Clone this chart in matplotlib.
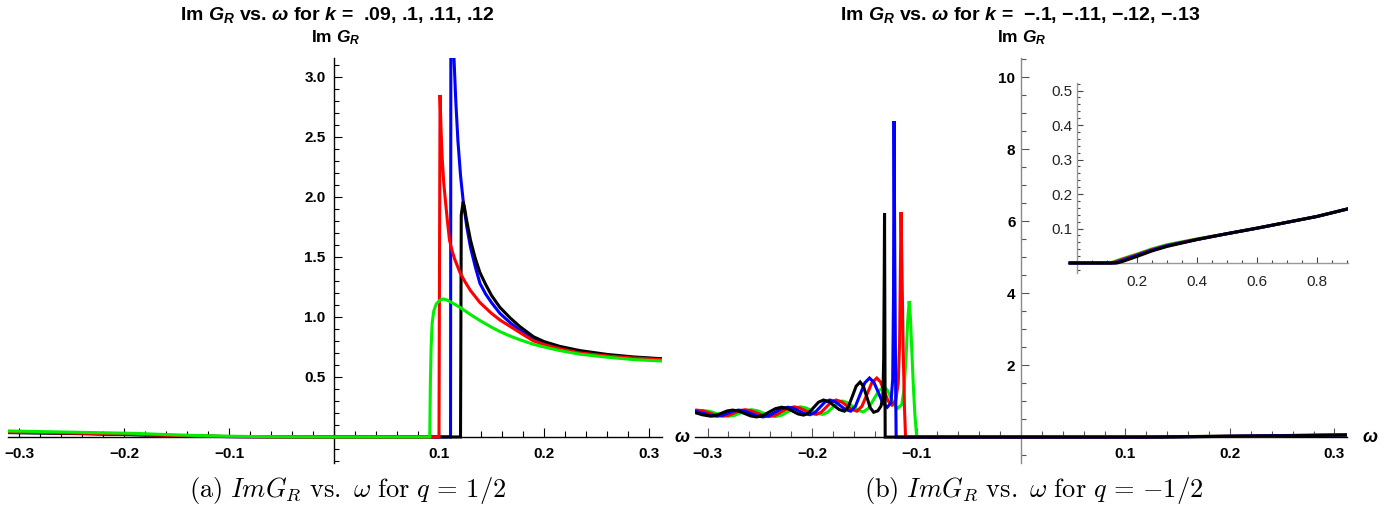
import numpy as np
import matplotlib.pyplot as plt
from matplotlib.ticker import MultipleLocator

# ---------------- data ----------------
# panel (a): q = 1/2, k = .09 (green), .1 (red), .11 (blue), .12 (black)
w_a_green = [-0.31, -0.28, -0.25, -0.22, -0.19, -0.16, -0.13, -0.10, -0.06, 0.0, 0.05,
             0.0912, 0.0918, 0.0925, 0.0935, 0.0950, 0.0975, 0.1010, 0.1040, 0.108, 0.114,
             0.120, 0.125, 0.130, 0.139, 0.150, 0.158, 0.168, 0.177, 0.190, 0.200, 0.215, 0.234,
             0.260, 0.285, 0.312]
im_a_green = [0.05, 0.045, 0.04, 0.035, 0.03, 0.02, 0.012, 0.006, 0.002, 0.0, 0.0,
              0.0, 0.45, 0.75, 0.95, 1.05, 1.11, 1.14, 1.15, 1.14, 1.11,
              1.08, 1.05, 1.02, 0.97, 0.915, 0.878, 0.84, 0.81, 0.772, 0.75, 0.72, 0.69,
              0.665, 0.645, 0.633]

w_a_red = [-0.31, -0.28, -0.25, -0.22, -0.19, -0.16, -0.13, -0.10, -0.06, 0.0, 0.05,
           0.1000, 0.1005, 0.1010, 0.1020, 0.1030, 0.1045, 0.106, 0.108, 0.110, 0.1125,
           0.115, 0.120, 0.125, 0.130, 0.139, 0.150, 0.158, 0.168, 0.177, 0.190, 0.200,
           0.215, 0.234, 0.260, 0.285, 0.312]
im_a_red = [0.04, 0.037, 0.033, 0.028, 0.022, 0.014, 0.008, 0.004, 0.001, 0.0, 0.0,
            0.0, 1.5, 2.85, 2.55, 2.33, 2.12, 1.98, 1.8, 1.64, 1.55,
            1.48, 1.37, 1.29, 1.22, 1.12, 1.03, 0.975, 0.92, 0.87, 0.80, 0.77,
            0.735, 0.70, 0.675, 0.658, 0.645]

w_a_blue = [-0.31, -0.28, -0.25, -0.22, -0.19, -0.16, -0.13, -0.10, -0.06, 0.0, 0.05,
            0.1110, 0.1114, 0.1125, 0.1143, 0.116, 0.118, 0.1205, 0.123, 0.1265, 0.130,
            0.1345, 0.139, 0.1445, 0.150, 0.158, 0.168, 0.177, 0.190, 0.200, 0.215, 0.234,
            0.260, 0.285, 0.312]
im_a_blue = [0.038, 0.035, 0.031, 0.026, 0.02, 0.013, 0.007, 0.003, 0.001, 0.0, 0.0,
             0.0, 4.5, 3.6, 3.15, 2.8, 2.47, 2.18, 1.97, 1.75, 1.58,
             1.42, 1.28, 1.19, 1.12, 1.03, 0.95, 0.89, 0.825, 0.785, 0.745, 0.71,
             0.68, 0.662, 0.648]

w_a_black = [-0.31, -0.28, -0.25, -0.22, -0.19, -0.16, -0.13, -0.10, -0.06, 0.0, 0.05,
             0.1205, 0.1212, 0.1230, 0.1245, 0.126, 0.128, 0.130, 0.1345, 0.139, 0.1445,
             0.150, 0.158, 0.168, 0.177, 0.190, 0.200, 0.215, 0.234, 0.260, 0.285, 0.312]
im_a_black = [0.036, 0.033, 0.029, 0.024, 0.018, 0.012, 0.006, 0.003, 0.001, 0.0, 0.0,
              0.0, 1.85, 1.96, 1.9, 1.82, 1.73, 1.64, 1.49, 1.37, 1.27,
              1.18, 1.08, 0.99, 0.92, 0.835, 0.795, 0.755, 0.72, 0.688, 0.667, 0.652]

# panel (b): q = -1/2, k = -.1 (green), -.11 (red), -.12 (blue), -.13 (black)
w_b_green = [-0.312, -0.305, -0.2985, -0.292, -0.2855, -0.279, -0.2738, -0.2685, -0.2633, -0.258,
             -0.2523, -0.2465, -0.2408, -0.235, -0.229, -0.223, -0.217, -0.211, -0.2058, -0.2005,
             -0.1953, -0.190, -0.1853, -0.1805, -0.1758, -0.171, -0.166, -0.161, -0.156, -0.151,
             -0.146, -0.141, -0.136, -0.131, -0.1278, -0.1245, -0.1213, -0.118, -0.1142, -0.112,
             -0.110, -0.1085, -0.107, -0.1058, -0.1045, -0.103, -0.1015, -0.0998, 0.0, 0.11,
             0.2, 0.312]
im_b_green = [0.72, 0.74, 0.717, 0.66, 0.603, 0.58, 0.606, 0.67, 0.734, 0.76,
              0.732, 0.665, 0.598, 0.57, 0.609, 0.705, 0.80, 0.84, 0.809, 0.735,
              0.661, 0.63, 0.684, 0.815, 0.946, 1.0, 0.956, 0.85, 0.744, 0.70,
              0.80, 1.045, 1.29, 1.39, 1.30, 1.095, 0.886, 0.80, 0.9, 1.3,
              2.2, 3.2, 3.78, 3.3, 2.4, 1.4, 0.6, 0.0, 0.0, 0.0,
              0.027, 0.062]

w_b_red = [-0.312, -0.3105, -0.3041, -0.2978, -0.2914, -0.285, -0.2798, -0.2745, -0.2693, -0.264,
           -0.2583, -0.2525, -0.2468, -0.241, -0.235, -0.229, -0.223, -0.217, -0.2118, -0.2065,
           -0.2013, -0.196, -0.1913, -0.1865, -0.1818, -0.177, -0.172, -0.167, -0.162, -0.157,
           -0.1523, -0.1475, -0.1428, -0.138, -0.1344, -0.1308, -0.1271, -0.1235, -0.120, -0.1175,
           -0.1162, -0.1155, -0.1148, -0.1140, -0.1128, -0.1115, -0.1105, 0.0, 0.115, 0.2,
           0.312]
im_b_red = [0.745, 0.75, 0.725, 0.665, 0.605, 0.58, 0.606, 0.67, 0.734, 0.76,
            0.732, 0.665, 0.598, 0.57, 0.609, 0.705, 0.80, 0.84, 0.809, 0.735,
            0.661, 0.63, 0.688, 0.83, 0.972, 1.03, 0.985, 0.875, 0.765, 0.72,
            0.854, 1.18, 1.506, 1.64, 1.53, 1.265, 1.0, 0.89, 1.0, 1.5,
            2.6, 4.5, 6.25, 4.8, 2.5, 0.8, 0.0, 0.0, 0.0, 0.026,
            0.061]

w_b_blue = [-0.312, -0.304, -0.2975, -0.291, -0.2858, -0.2805, -0.2753, -0.270, -0.2643, -0.2585,
            -0.2528, -0.247, -0.241, -0.235, -0.229, -0.223, -0.2178, -0.2125, -0.2073, -0.202,
            -0.1973, -0.1925, -0.1878, -0.183, -0.178, -0.173, -0.168, -0.163, -0.1585, -0.154,
            -0.1495, -0.145, -0.1408, -0.1365, -0.1323, -0.128, -0.1245, -0.1228, -0.1220, -0.1215,
            -0.1208, -0.1200, -0.1195, 0.0, 0.125, 0.2, 0.312]
im_b_blue = [0.72, 0.66, 0.603, 0.58, 0.605, 0.665, 0.725, 0.75, 0.722, 0.655,
             0.588, 0.56, 0.599, 0.695, 0.79, 0.83, 0.80, 0.725, 0.65, 0.62,
             0.68, 0.825, 0.97, 1.03, 0.985, 0.875, 0.765, 0.72, 0.854, 1.18,
             1.506, 1.64, 1.522, 1.235, 0.948, 0.83, 0.95, 1.6, 4.0, 8.78,
             5.0, 1.5, 0.0, 0.0, 0.0, 0.024, 0.06]

w_b_black = [-0.312, -0.305, -0.297, -0.2918, -0.2865, -0.2813, -0.276, -0.2703, -0.2645, -0.2588,
             -0.253, -0.247, -0.241, -0.235, -0.229, -0.2238, -0.2185, -0.2133, -0.208, -0.2033,
             -0.1985, -0.1938, -0.189, -0.184, -0.179, -0.174, -0.169, -0.1653, -0.1615, -0.1578,
             -0.154, -0.1508, -0.1475, -0.1443, -0.141, -0.137, -0.134, -0.1322, -0.1314, -0.1309,
             -0.1306, -0.1303, -0.1300, 0.0, 0.133, 0.2, 0.312]
im_b_black = [0.68, 0.62, 0.58, 0.605, 0.665, 0.725, 0.75, 0.722, 0.655, 0.588,
              0.56, 0.599, 0.695, 0.79, 0.83, 0.798, 0.72, 0.642, 0.61, 0.671,
              0.82, 0.969, 1.03, 0.985, 0.875, 0.765, 0.72, 0.838, 1.125, 1.412,
              1.53, 1.407, 1.11, 0.813, 0.69, 0.73, 0.86, 1.1, 2.2, 4.5,
              6.22, 3.2, 0.0, 0.0, 0.0, 0.02, 0.055]

# inset of panel (b), omega > 0
w_in_green = [-0.023, 0.110, 0.150, 0.200, 0.250, 0.300, 0.400, 0.500, 0.600, 0.700, 0.800, 0.903]
im_in_green = [0.0, 0.0, 0.012, 0.026, 0.041, 0.053, 0.070, 0.085, 0.101, 0.118, 0.135, 0.157]
w_in_red = [-0.023, 0.115, 0.150, 0.200, 0.250, 0.300, 0.400, 0.500, 0.600, 0.700, 0.800, 0.903]
im_in_red = [0.0, 0.0, 0.010, 0.024, 0.039, 0.051, 0.069, 0.085, 0.101, 0.118, 0.135, 0.157]
w_in_blue = [-0.023, 0.125, 0.150, 0.200, 0.250, 0.300, 0.400, 0.500, 0.600, 0.700, 0.800, 0.903]
im_in_blue = [0.0, 0.0, 0.007, 0.022, 0.037, 0.050, 0.068, 0.085, 0.101, 0.118, 0.135, 0.157]
w_in_black = [-0.023, 0.133, 0.150, 0.200, 0.250, 0.300, 0.400, 0.500, 0.600, 0.700, 0.800, 0.903]
im_in_black = [0.0, 0.0, 0.004, 0.019, 0.035, 0.048, 0.068, 0.085, 0.101, 0.118, 0.135, 0.157]

xticks_main = [-0.3, -0.2, -0.1, 0.1, 0.2, 0.3]
xlabels_main = ['\u22120.3', '\u22120.2', '\u22120.1', '0.1', '0.2', '0.3']
yticks_a = [0.5, 1.0, 1.5, 2.0, 2.5, 3.0]
ylabels_a = ['0.5', '1.0', '1.5', '2.0', '2.5', '3.0']
yticks_b = [2, 4, 6, 8, 10]
ylabels_b = ['2', '4', '6', '8', '10']
xticks_in = [0.2, 0.4, 0.6, 0.8]
xlabels_in = ['0.2', '0.4', '0.6', '0.8']
yticks_in = [0.1, 0.2, 0.3, 0.4, 0.5]
ylabels_in = ['0.1', '0.2', '0.3', '0.4', '0.5']

# ---------------- figure ----------------
plt.rcParams['font.family'] = ['Liberation Sans', 'DejaVu Sans']
plt.rcParams['mathtext.fontset'] = 'custom'
plt.rcParams['mathtext.rm'] = 'Liberation Sans:bold'
plt.rcParams['mathtext.it'] = 'Liberation Sans:italic:bold'
plt.rcParams['mathtext.bf'] = 'Liberation Sans:bold'

W, H = 1400, 530
fig = plt.figure(figsize=(W / 100, H / 100), dpi=100)


def axes_px(left, right, top, bottom):
    return fig.add_axes([left / W, 1 - bottom / H, (right - left) / W, (bottom - top) / H])


def cross_axes(ax, xcol, ycol, tcol):
    for s in ['top', 'right']:
        ax.spines[s].set_visible(False)
    ax.spines['left'].set_position(('data', 0))
    ax.spines['bottom'].set_position(('data', 0))
    ax.spines['left'].set_color(ycol)
    ax.spines['bottom'].set_color(xcol)
    ax.spines['left'].set_linewidth(1.0)
    ax.spines['bottom'].set_linewidth(1.0)
    ax.patch.set_alpha(0)
    ax.tick_params(which='both', direction='in', color=tcol, width=0.8)


GREEN, RED, BLUE, BLACK = '#00ee00', '#ff0000', '#0000ff', '#000000'
LW = 2.2

# panel (a)
ax_a = axes_px(8, 662, 58, 463)
ax_a.set_xlim(-0.3105, 0.3124)
ax_a.set_ylim(-0.217, 3.158)
cross_axes(ax_a, 'black', 'black', 'black')
for w, v, c in [(w_a_blue, im_a_blue, BLUE), (w_a_black, im_a_black, BLACK),
                (w_a_red, im_a_red, RED), (w_a_green, im_a_green, GREEN)]:
    ax_a.plot(w, v, color=c, lw=LW, zorder=3, solid_joinstyle='miter')
ax_a.set_xticks(xticks_main, xlabels_main)
ax_a.set_yticks(yticks_a, ylabels_a)
ax_a.xaxis.set_minor_locator(MultipleLocator(0.02))
ax_a.yaxis.set_minor_locator(MultipleLocator(0.1))
ax_a.tick_params(axis='x', which='major', length=6.5, pad=7)
ax_a.tick_params(axis='x', which='minor', length=4.3)
ax_a.tick_params(axis='y', which='major', length=5.8, pad=6)
ax_a.tick_params(axis='y', which='minor', length=3.6)
for lab in ax_a.get_xticklabels() + ax_a.get_yticklabels():
    lab.set_fontweight('bold')
    lab.set_fontsize(11)

# panel (b)
ax_b = axes_px(695, 1347, 58, 463)
ax_b.set_xlim(-0.312, 0.312)
ax_b.set_ylim(-0.72, 10.53)
cross_axes(ax_b, 'black', '#8a8a8a', '#555555')
for w, v, c in [(w_b_green, im_b_green, GREEN), (w_b_red, im_b_red, RED),
                (w_b_blue, im_b_blue, BLUE), (w_b_black, im_b_black, BLACK)]:
    ax_b.plot(w, v, color=c, lw=LW, zorder=3, solid_joinstyle='miter')
ax_b.set_xticks(xticks_main, xlabels_main)
ax_b.set_yticks(yticks_b, ylabels_b)
ax_b.xaxis.set_minor_locator(MultipleLocator(0.02))
ax_b.yaxis.set_minor_locator(MultipleLocator(0.5))
ax_b.tick_params(axis='x', which='major', length=6.5, pad=7)
ax_b.tick_params(axis='x', which='minor', length=4.3)
ax_b.tick_params(axis='y', which='major', length=5.8, pad=4)
ax_b.tick_params(axis='y', which='minor', length=3.6)
for lab in ax_b.get_xticklabels() + ax_b.get_yticklabels():
    lab.set_fontweight('bold')
    lab.set_fontsize(11)

# inset
ax_in = axes_px(1068, 1348, 83, 273)
ax_in.set_xlim(-0.03, 0.9033)
ax_in.set_ylim(-0.029, 0.522)
cross_axes(ax_in, '#999999', '#999999', '#444444')
for w, v, c in [(w_in_green, im_in_green, GREEN), (w_in_red, im_in_red, RED),
                (w_in_blue, im_in_blue, BLUE), (w_in_black, im_in_black, BLACK)]:
    ax_in.plot(w, v, color=c, lw=LW, zorder=3)
ax_in.set_xticks(xticks_in, xlabels_in)
ax_in.set_yticks(yticks_in, ylabels_in)
ax_in.xaxis.set_minor_locator(MultipleLocator(0.05))
ax_in.yaxis.set_minor_locator(MultipleLocator(0.02))
ax_in.tick_params(axis='x', which='major', length=4, pad=9, labelsize=11, labelcolor='#222222')
ax_in.tick_params(axis='x', which='minor', length=2.5)
ax_in.tick_params(axis='y', which='major', length=4, pad=3, labelsize=11, labelcolor='#222222')
ax_in.tick_params(axis='y', which='minor', length=2)

# texts
title_kw = dict(ha='center', va='center', fontsize=14, fontweight='bold')
fig.text(337 / W, 1 - 15 / H, r'Im $G_R$ vs. $\omega$ for $k$ =  .09, .1, .11, .12', **title_kw)
fig.text(1020 / W, 1 - 15 / H, r'Im $G_R$ vs. $\omega$ for $k$ =  $-$.1, $-$.11, $-$.12, $-$.13', **title_kw)
fig.text(336 / W, 1 - 38 / H, r'Im $G_R$', ha='center', va='center', fontsize=12.5, fontweight='bold')
fig.text(1022 / W, 1 - 38 / H, r'Im $G_R$', ha='center', va='center', fontsize=12.5, fontweight='bold')
fig.text(682 / W, 1 - 438 / H, r'$\omega$', ha='center', va='center', fontsize=13)
fig.text(1370 / W, 1 - 438 / H, r'$\omega$', ha='center', va='center', fontsize=13)

cap_kw = dict(ha='center', va='center', fontsize=19, math_fontfamily='cm')
fig.text(348 / W, 1 - 491 / H, r'$\mathrm{(a)}\ ImG_R\ \mathrm{vs.}\ \omega\ \mathrm{for}\ q\,=\,1/2$', **cap_kw)
fig.text(1034 / W, 1 - 491 / H, r'$\mathrm{(b)}\ ImG_R\ \mathrm{vs.}\ \omega\ \mathrm{for}\ q\,=\,{-}1/2$', **cap_kw)

fig.savefig('out.png', dpi=100)
